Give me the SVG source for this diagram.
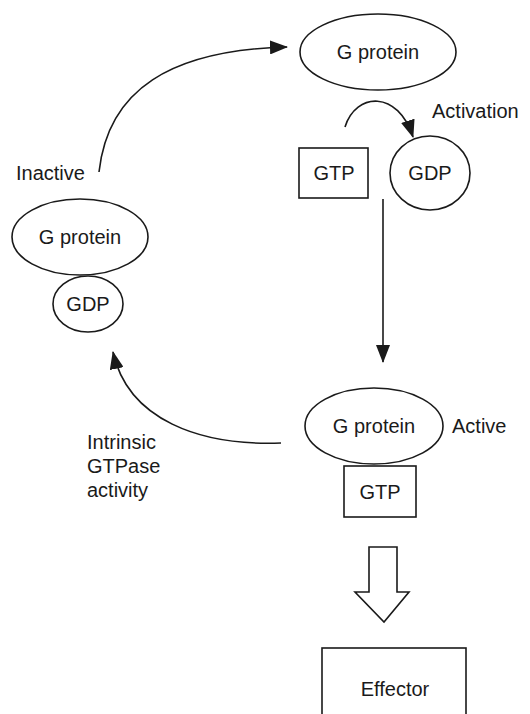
<svg xmlns="http://www.w3.org/2000/svg" width="530" height="714" viewBox="0 0 530 714">
<style>
.s{fill:none;stroke:#1a1a1a;stroke-width:1.6}
.t{font-family:"Liberation Sans",Arial,sans-serif;font-size:20px;fill:#1a1a1a}
.m{text-anchor:middle}
</style>
<defs>
<marker id="ah" markerUnits="userSpaceOnUse" markerWidth="18" markerHeight="14" refX="17" refY="7" orient="auto">
<path d="M0,0 L18,7 L0,14 z" fill="#1a1a1a"/>
</marker>
</defs>
<rect width="530" height="714" fill="#fff"/>
<g id="gprotein-top">
<ellipse class="s" cx="378" cy="52" rx="78" ry="38"/>
<text class="t m" x="378" y="59">G protein</text>
</g>
<g id="gtp-top">
<rect class="s" x="299" y="148" width="69" height="50"/>
<text class="t m" x="334" y="180">GTP</text>
</g>
<g id="gdp-top">
<ellipse class="s" cx="430" cy="173" rx="40" ry="37"/>
<text class="t m" x="430" y="180">GDP</text>
</g>
<g id="inactive-label"><text class="t" x="16" y="180">Inactive</text></g>
<g id="activation-label"><text class="t" x="432" y="118">Activation</text></g>
<g id="gprotein-inactive">
<ellipse class="s" cx="80" cy="237" rx="68" ry="38"/>
<text class="t m" x="80" y="244">G protein</text>
</g>
<g id="gdp-left">
<ellipse class="s" cx="88" cy="304" rx="35" ry="28"/>
<text class="t m" x="88" y="311">GDP</text>
</g>
<g id="gprotein-active">
<ellipse class="s" cx="374" cy="426" rx="69" ry="38"/>
<text class="t m" x="374" y="433">G protein</text>
</g>
<g id="active-label"><text class="t" x="452" y="433">Active</text></g>
<g id="gtp-active">
<rect class="s" x="344" y="466" width="72" height="51"/>
<text class="t m" x="380" y="499">GTP</text>
</g>
<g id="gtpase-label">
<text class="t" x="87" y="449">Intrinsic</text>
<text class="t" x="87" y="473">GTPase</text>
<text class="t" x="87" y="497">activity</text>
</g>
<g id="effector">
<rect class="s" x="322" y="648" width="144" height="90"/>
<text class="t m" x="395" y="696">Effector</text>
</g>
<g id="connectors">
<path class="s" d="M99 172 C108 90 170 50 287 47" marker-end="url(#ah)"/>
<path class="s" d="M345 127 C356 92 398 90 413 137" marker-end="url(#ah)"/>
<path class="s" d="M383 199 L383 362" marker-end="url(#ah)"/>
<path class="s" d="M281 443 C200 446 128 420 113 352" marker-end="url(#ah)"/>
<polygon class="s" points="369,547 397,547 397,592 409,592 384,622 355,592 369,592"/>
</g>
</svg>
